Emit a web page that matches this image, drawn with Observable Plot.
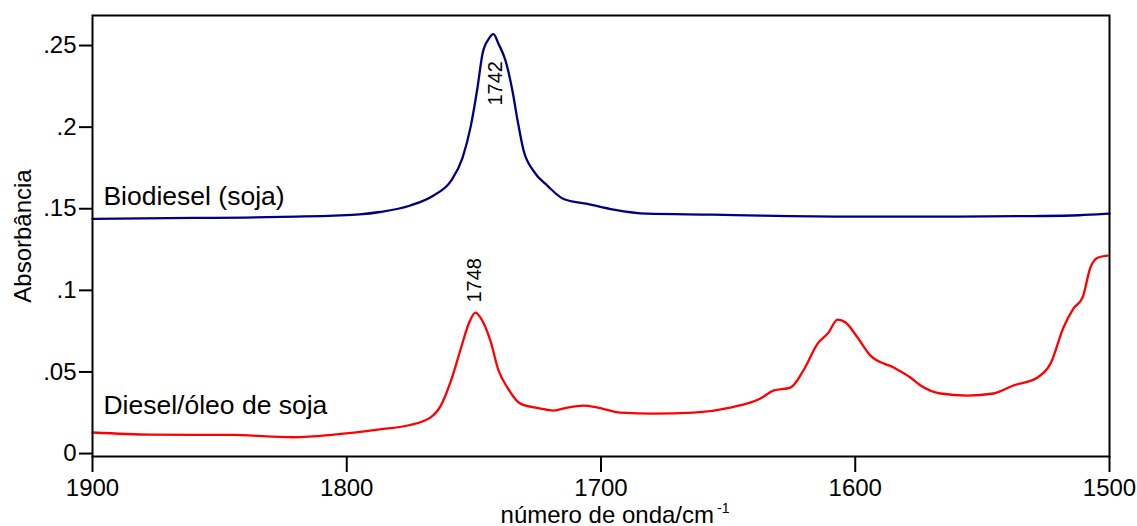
<!DOCTYPE html>
<html>
<head>
<meta charset="utf-8">
<script src="https://cdn.jsdelivr.net/npm/d3@7"></script>
<script src="https://cdn.jsdelivr.net/npm/@observablehq/plot@0.6"></script>
<style>
  html, body { margin: 0; padding: 0; background: #ffffff; }
  #chart { width: 1137px; height: 526px; }
</style>
</head>
<body>
<div id="chart"></div>
<script>
// ---- Data ----
const biodieselWn  = [1900, 1860, 1840, 1820, 1805, 1795, 1787, 1775, 1766, 1759, 1754.5, 1751.3, 1748.6, 1746.6, 1744.2, 1742.3, 1740.3, 1737.6, 1734.8, 1732.8, 1730.5, 1726.5, 1721, 1714.7, 1705.3, 1695, 1682, 1656, 1637, 1600, 1560, 1530, 1512, 1502, 1500];
const biodieselAbs = [0.1438, 0.1444, 0.1446, 0.1452, 0.1458, 0.1465, 0.148, 0.152, 0.158, 0.167, 0.181, 0.200, 0.224, 0.245, 0.254, 0.257, 0.251, 0.241, 0.222, 0.204, 0.186, 0.173, 0.164, 0.156, 0.153, 0.1495, 0.147, 0.1464, 0.1458, 0.1452, 0.1452, 0.1455, 0.146, 0.1468, 0.147];

const dieselWn  = [1900, 1877, 1845, 1821, 1805, 1787, 1776, 1767, 1763, 1759, 1755, 1752, 1749.4, 1747.4, 1743.5, 1740.3, 1736.8, 1731.7, 1723.8, 1718.7, 1713.2, 1706.9, 1701.4, 1692.3, 1679.4, 1663.6, 1649.1, 1637.3, 1632.2, 1625.5, 1620.4, 1614.8, 1610.5, 1607, 1603.8, 1599.1, 1594, 1584.9, 1578.3, 1574.3, 1566.5, 1555.9, 1545.6, 1537.8, 1528.3, 1523.2, 1518.1, 1514.2, 1510.6, 1507.5, 1504.7, 1500.8];
const dieselAbs = [0.0129, 0.0116, 0.0114, 0.0100, 0.0116, 0.0148, 0.0172, 0.0222, 0.0294, 0.0447, 0.065, 0.0797, 0.0864, 0.0833, 0.0692, 0.0509, 0.0404, 0.0306, 0.0276, 0.0263, 0.0282, 0.0294, 0.0282, 0.0251, 0.0245, 0.0251, 0.0282, 0.0337, 0.0386, 0.0404, 0.0509, 0.0674, 0.0741, 0.0821, 0.0803, 0.0711, 0.060, 0.0527, 0.0466, 0.0417, 0.0368, 0.0355, 0.0368, 0.0417, 0.0466, 0.0551, 0.0772, 0.0888, 0.0956, 0.114, 0.120, 0.1213];

const seriesNames   = ["Biodiesel (soja)", "Diesel/óleo de soja"];
const nameLabelWn   = [1895.7, 1895.7];
const nameLabelAbs  = [0.152, 0.0245];

const peakText = ["1742", "1748"];
const peakWn   = [1741.5, 1749.8];
const peakAbs  = [0.2132, 0.0925];

const xTicks = [1900, 1800, 1700, 1600, 1500];
const yTicks = [0, 0.05, 0.1, 0.15, 0.2, 0.25];
const xLabel = "número de onda/cm";
const xLabelSup = "-1";
const yLabel = "Absorbância";

// ---- Build tables ----
const biodiesel = biodieselWn.map((w, i) => ({wn: w, abs: biodieselAbs[i]}));
const diesel = dieselWn.map((w, i) => ({wn: w, abs: dieselAbs[i]}));
const nameLabels = seriesNames.map((t, i) => ({text: t, wn: nameLabelWn[i], abs: nameLabelAbs[i]}));
const peaks = peakText.map((t, i) => ({text: t, wn: peakWn[i], abs: peakAbs[i]}));

const yFmt = d => d === 0 ? "0" : String(d).replace(/^0/, "");

const chart = Plot.plot({
  width: 1137,
  height: 526,
  marginLeft: 92,
  marginRight: 28,
  marginTop: 15,
  marginBottom: 70,
  style: {fontFamily: "'Liberation Sans', Arial, sans-serif", fontSize: "24px", background: "#ffffff", color: "#000"},
  x: {domain: [1900, 1500]},
  y: {domain: [-0.0018, 0.2684]},
  marks: [
    Plot.axisX({ticks: xTicks, tickSize: 16, tickPadding: 6, tickFormat: d => String(d), strokeWidth: 2,
      label: xLabel, labelAnchor: "center", labelArrow: "none", labelOffset: 66, fontSize: 24}),
    Plot.axisY({ticks: yTicks, tickSize: 13, tickPadding: 3, tickFormat: yFmt, strokeWidth: 2,
      label: yLabel, labelAnchor: "center", labelArrow: "none", labelOffset: 79, fontSize: 24}),
    Plot.line(biodiesel, {x: "wn", y: "abs", stroke: "#000080", strokeWidth: 2.3, curve: "monotone-x"}),
    Plot.line(diesel, {x: "wn", y: "abs", stroke: "#ff0000", strokeWidth: 2.3, curve: "monotone-x"}),
    Plot.text(nameLabels, {x: "wn", y: "abs", text: "text", textAnchor: "start", lineAnchor: "bottom", fontSize: 26.5, fill: "#000"}),
    Plot.text(peaks, {x: "wn", y: "abs", text: "text", rotate: -90, textAnchor: "start", lineAnchor: "middle", fontSize: 20, fill: "#000"}),
    Plot.frame({stroke: "#000", strokeWidth: 2})
  ]
});

document.getElementById("chart").appendChild(chart);

// superscript on the x-axis label
const lab = d3.select(chart).select('g[aria-label="x-axis label"] text');
if (!lab.empty()) {
  lab.attr("dx", 14);
  lab.append("tspan").attr("dx", 3).attr("dy", -10).attr("font-size", 14).text(xLabelSup);
}
</script>
</body>
</html>
